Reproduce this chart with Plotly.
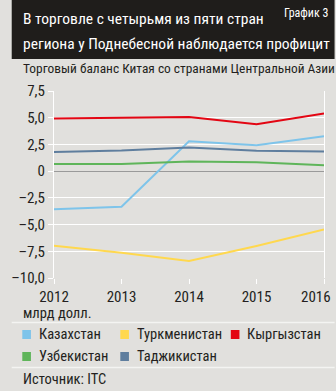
import plotly.graph_objects as go

years = [2012, 2013, 2014, 2015, 2016]
year_labels = ["2012", "2013", "2014", "2015", "2016"]
kazakhstan = [-3.56, -3.34, 2.8, 2.43, 3.27]
turkmenistan = [-6.98, -7.64, -8.41, -7.0, -5.45]
kyrgyzstan = [4.93, 4.97, 5.07, 4.39, 5.39]
uzbekistan = [0.68, 0.68, 0.9, 0.84, 0.56]
tajikistan = [1.80, 1.93, 2.21, 1.90, 1.84]

names = ["Казахстан", "Туркменистан", "Кыргызстан", "Узбекистан", "Таджикистан"]
colors = ["#7ec4ea", "#ffd84e", "#e30613", "#5fb55a", "#5f7e9e"]
series = [kazakhstan, turkmenistan, kyrgyzstan, uzbekistan, tajikistan]

ytickvals = [7.5, 5.0, 2.5, 0, -2.5, -5.0, -7.5, -10.0]
yticktext = ["7,5", "5,0", "2,5", "0", "–2,5", "–5,0", "–7,5", "–10,0"]

W, H = 336, 391
L, R, T, B = 44, 11, 91, 113
PW, PH = W - L - R, H - T - B

def px(x):
    return (x - L) / PW

def py(y):
    return (H - B - y) / PH

FONT = "Roboto Condensed, DejaVu Sans Condensed, sans-serif"
BG = "#e1e0dd"
TXT = "#231f20"

fig = go.Figure()
draw_order = [1, 0, 3, 4, 2]
for i in draw_order:
    fig.add_trace(go.Scatter(x=years, y=series[i], mode="lines", name=names[i],
                             line=dict(color=colors[i], width=2), showlegend=False))

shapes = []
annotations = []
# header
shapes.append(dict(type="rect", xref="paper", yref="paper", x0=px(0), x1=px(W), y0=py(59), y1=py(0),
                   fillcolor="#1f1d1b", line=dict(width=0), layer="below"))
# separators
for yy in [322.5, 367.5]:
    shapes.append(dict(type="line", xref="paper", yref="paper", x0=px(0), x1=px(W), y0=py(yy), y1=py(yy),
                       line=dict(color="#f4f4f2", width=1.5)))

title_lines = ["В торговле с четырьмя из пяти стран", "региона у Поднебесной наблюдается профицит"]
for txt, yy in zip(title_lines, [19, 43.5]):
    annotations.append(dict(text=txt, xref="paper", yref="paper", x=px(10), y=py(yy),
                            xanchor="left", yanchor="middle", showarrow=False,
                            font=dict(family=FONT, size=15.5, color="white")))
annotations.append(dict(text="График 3", xref="paper", yref="paper", x=px(332), y=py(12.5),
                        xanchor="right", yanchor="middle", showarrow=False,
                        font=dict(family=FONT, size=12, color="white")))
annotations.append(dict(text="Торговый баланс Китая со странами Центральной Азии", xref="paper", yref="paper",
                        x=px(10), y=py(68.5), xanchor="left", yanchor="middle", showarrow=False,
                        font=dict(family=FONT, size=13.4, color=TXT)))
annotations.append(dict(text="млрд долл.", xref="paper", yref="paper",
                        x=px(10), y=py(313), xanchor="left", yanchor="middle", showarrow=False,
                        font=dict(family=FONT, size=14.5, color=TXT)))
annotations.append(dict(text="Источник: ITC", xref="paper", yref="paper",
                        x=px(10), y=py(379), xanchor="left", yanchor="middle", showarrow=False,
                        font=dict(family=FONT, size=14.5, color=TXT)))
# last year label kept inside the figure edge
annotations.append(dict(text=year_labels[-1], xref="x", yref="paper", x=years[-1], y=py(297),
                        xanchor="right", xshift=9, yanchor="middle", showarrow=False,
                        font=dict(family=FONT, size=15, color=TXT)))

legend_pos = [(11, 334.5), (113, 334.5), (228, 334.5), (11, 356.5), (113, 356.5)]
for i, (lx, ly) in enumerate(legend_pos):
    shapes.append(dict(type="rect", xref="paper", yref="paper", x0=px(lx), x1=px(lx + 9),
                       y0=py(ly + 4.5), y1=py(ly - 4.5), fillcolor=colors[i], line=dict(width=0)))
    annotations.append(dict(text=names[i], xref="paper", yref="paper", x=px(lx + 15), y=py(ly),
                            xanchor="left", yanchor="middle", showarrow=False,
                            font=dict(family=FONT, size=14.5, color=TXT)))

fig.update_layout(
    width=W, height=H, autosize=False, margin=dict(l=L, r=R, t=T, b=B, pad=0),
    paper_bgcolor=BG, plot_bgcolor=BG,
    shapes=shapes, annotations=annotations, showlegend=False,
    font=dict(family=FONT, color=TXT),
)
fig.update_xaxes(range=[2012, 2016], tickvals=years, ticktext=year_labels[:-1] + [""],
                 showgrid=False, zeroline=False, showline=False,
                 ticks="outside", ticklen=5, tickcolor="white", tickwidth=1.2,
                 tickfont=dict(family=FONT, size=15, color=TXT), fixedrange=True)
fig.update_yaxes(range=[-10, 7.5], tickvals=ytickvals, ticktext=yticktext,
                 showgrid=True, gridcolor="white", gridwidth=1.2,
                 zeroline=True, zerolinecolor="#9a9a9a", zerolinewidth=1.2,
                 showline=True, linecolor="white", linewidth=1.2, mirror=True,
                 ticks="outside", ticklen=5, tickcolor="white", tickwidth=1.2,
                 tickfont=dict(family=FONT, size=15, color=TXT), fixedrange=True)

fig.write_html("out.html", config={"responsive": False, "displayModeBar": False})
